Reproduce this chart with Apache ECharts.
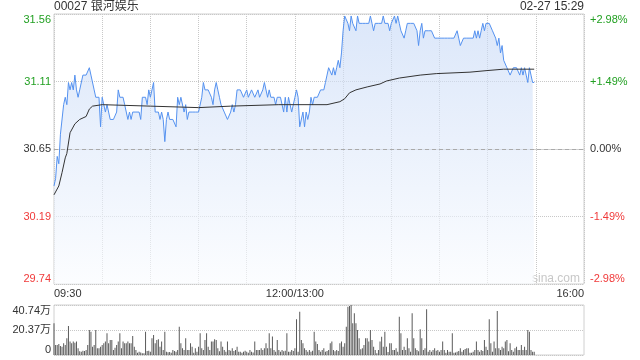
<!DOCTYPE html>
<html><head><meta charset="utf-8">
<script src="https://cdn.jsdelivr.net/npm/echarts@6/dist/echarts.min.js"></script>
<style>html,body{margin:0;padding:0;background:#fff}#c{width:640px;height:360px}</style>
</head><body><div id="c"></div>
<script>
const titleText = '00027 银河娱乐';
const stampText = '02-27 15:29';
const prevClose = 30.65;
const pctStep = 1.49;
const timeLabels = {0: '09:30', 150: '12:00/13:00', 330: '16:00'};
const volMax = 40.74;

const prices = [
30.40,30.45,30.60,30.55,30.75,30.75,30.95,31.00,30.95,31.10,
31.05,31.10,31.05,31.15,31.05,31.00,31.05,31.05,31.15,31.15,
31.15,31.15,31.20,31.15,31.15,31.05,31.00,31.00,31.00,30.80,
31.00,30.95,30.90,30.95,30.90,30.85,30.85,30.85,30.85,30.90,
31.05,31.00,31.00,31.00,30.95,30.95,30.85,30.90,30.85,30.90,
30.90,30.90,30.90,30.90,30.85,31.00,31.00,31.00,30.95,31.05,
31.00,31.05,31.10,30.90,30.90,30.90,30.85,30.90,30.85,30.70,
30.85,30.90,30.85,30.85,30.85,30.85,30.80,31.00,30.95,31.00,
31.00,30.90,30.95,30.85,30.90,30.90,30.90,30.90,30.90,30.90,
30.90,30.90,31.00,31.10,31.05,31.05,31.05,31.05,31.00,30.95,
31.05,31.10,31.05,31.00,30.95,30.95,30.90,30.90,30.85,30.85,
30.90,30.95,30.90,30.95,31.05,31.05,31.05,31.05,31.00,31.00,
31.05,31.00,31.00,31.05,31.05,31.00,31.00,31.05,31.00,31.00,
31.05,31.10,31.10,31.00,31.05,31.00,31.00,31.00,30.95,31.00,
31.00,31.00,31.00,30.90,31.00,30.90,31.00,30.95,30.90,30.90,
31.00,31.05,31.00,30.80,30.80,30.90,30.80,30.90,30.85,30.90,
31.00,30.95,31.00,31.00,31.00,31.00,31.05,31.05,31.05,31.10,
31.15,31.20,31.20,31.15,31.20,31.15,31.20,31.25,31.20,31.30,
31.45,31.55,31.55,31.50,31.45,31.55,31.50,31.50,31.45,31.55,
31.50,31.50,31.50,31.50,31.50,31.50,31.50,31.55,31.50,31.45,
31.50,31.50,31.50,31.50,31.50,31.55,31.50,31.50,31.50,31.45,
31.50,31.50,31.55,31.50,31.55,31.50,31.45,31.45,31.40,31.45,
31.50,31.50,31.50,31.50,31.50,31.50,31.45,31.35,31.45,31.50,
31.40,31.45,31.45,31.45,31.45,31.45,31.45,31.40,31.40,31.40,
31.40,31.40,31.40,31.40,31.40,31.40,31.40,31.40,31.40,31.40,
31.40,31.45,31.40,31.35,31.35,31.40,31.40,31.40,31.40,31.40,
31.40,31.40,31.45,31.40,31.45,31.40,31.45,31.50,31.45,31.50,
31.50,31.50,31.50,31.45,31.45,31.40,31.35,31.40,31.30,31.35,
31.25,31.25,31.20,31.20,31.15,31.15,31.20,31.20,31.20,31.20,
31.15,31.20,31.15,31.20,31.15,31.10,31.20,31.15,31.10,31.10
];

const avgMinutes = [0,3,5,7,8,10,13,16,20,22,24,30,60,90,110,140,170,178,181,184,188,195,203,207,215,228,238,259,269,280,299];
const avgValues  = [30.34,30.40,30.49,30.59,30.62,30.76,30.82,30.85,30.87,30.92,30.94,30.95,30.94,30.93,30.94,30.95,30.95,30.97,30.99,31.03,31.05,31.07,31.09,31.11,31.13,31.15,31.16,31.17,31.18,31.19,31.19];

const volumes = [
25.8,8.1,8.1,9.0,7.3,6.8,9.5,8.1,13.6,23.6,10.9,9.5,10.9,10.0,10.9,5.4,
3.0,
2.7,3.5,3.3,4.1,8.1,20.4,19.0,6.8,8.1,20.4,5.4,5.4,6.8,8.1,9.5,10.9,17.7,9.5,12.2,12.2,4.1,
6.0,
8.1,10.9,17.7,5.4,10.9,9.5,9.5,10.9,9.5,9.5,15.5,6.8,4.1,1.9,2.7,2.0,1.4,1.5,19.0,3.3,3.5,2.7,13.6,16.3,9.5,12.2,12.8,6.8,10.9,4.1,19.0,2.7,2.2,
2.5,
1.9,4.1,3.3,2.7,4.1,23.1,9.5,5.4,4.1,13.6,4.1,4.1,9.5,6.8,1.9,5.4,2.7,6.8,17.7,5.4,4.1,12.2,17.7,6.8,4.1,10.9,10.9,12.8,12.2,5.4,
3.0,
10.9,6.8,4.1,2.7,10.9,4.1,3.5,5.4,3.3,4.1,6.8,2.7,2.7,1.9,2.7,3.5,2.7,1.9,4.1,2.7,
2.0,
10.9,4.1,4.1,4.1,5.4,4.1,5.4,9.5,5.4,17.7,5.4,15.0,4.1,2.7,12.2,4.1,2.7,4.1,3.0,
3.5,
17.7,2.7,2.7,4.1,3.3,5.4,29.1,2.7,35.3,12.2,9.5,5.4,4.1,2.7,4.1,2.7,3.5,19.0,10.9,9.0,4.1,
2.7,4.1,5.4,2.7,3.3,4.1,9.5,10.9,4.1,
3.0,
4.1,3.3,9.5,10.9,6.8,9.5,23.1,39.4,39.9,40.7,25.8,34.0,25.8,20.4,13.6,4.6,5.4,8.1,13.6,13.6,10.9,20.4,12.2,6.8,4.1,1.4,4.1,10.9,14.9,6.8,19.0,6.8,
2.5,
9.5,9.5,4.1,4.1,5.4,2.7,31.2,17.7,4.1,6.8,4.1,13.6,5.4,2.7,34.0,13.6,5.4,4.1,
3.0,
20.9,13.6,4.1,5.4,37.2,2.7,4.1,2.7,4.1,5.4,3.5,4.1,2.7,4.1,10.9,4.1,1.9,4.1,2.7,2.7,17.7,1.9,
2.0,
2.7,3.3,5.4,2.7,4.1,4.9,5.4,5.4,1.9,1.9,2.7,4.1,10.9,4.1,2.7,4.1,3.3,12.2,6.8,4.1,29.1,9.5,2.7,10.9,5.4,35.9,5.4,4.1,6.8,5.4,10.9,12.2,
3.0,
9.5,4.1,2.7,5.4,6.8,4.1,4.1,8.1,4.1,6.8,4.1,20.4,19.0,4.1,2.7,2.7
];

const FONT = '"Liberation Sans", Arial, "Noto Sans CJK SC", sans-serif';
const GREEN = '#22a022';
const RED = '#f03a3a';
const DARK = '#333';

const priceStep = Math.round(prevClose * pctStep / 100 * 1e6) / 1e6;
const priceMin = Math.round((prevClose - 2 * priceStep) * 1e6) / 1e6;
const priceMax = Math.round((prevClose + 2 * priceStep) * 1e6) / 1e6;

function colorFor(d) {
  if (d > 1e-6) return GREEN;
  if (d < -1e-6) return RED;
  return DARK;
}

const chart = echarts.init(document.getElementById('c'), null, {renderer: 'canvas'});
chart.setOption({
  animation: false,
  backgroundColor: '#fff',
  textStyle: {fontFamily: FONT},
  title: [
    {text: titleText, left: 54, top: 1, padding: 0,
     textStyle: {fontSize: 12, fontWeight: 'normal', color: DARK, fontFamily: FONT}},
    {text: stampText, right: 56, top: 1, padding: 0,
     textStyle: {fontSize: 12, fontWeight: 'normal', color: DARK, fontFamily: FONT}}
  ],
  graphic: [{
    type: 'text', left: 532, top: 273, silent: true,
    style: {text: 'sina.com', fill: '#c8c8c8', font: '12px ' + FONT}
  }],
  grid: [
    {left: 54, right: 56, top: 14, bottom: 76, show: true, borderColor: '#d0d0d0', borderWidth: 1, backgroundColor: 'transparent'},
    {left: 54, right: 56, top: 305, bottom: 5, show: true, borderColor: '#d0d0d0', borderWidth: 1, backgroundColor: 'transparent'}
  ],
  xAxis: [
    {type: 'value', gridIndex: 0, min: 0, max: 330, interval: 30,
     axisLine: {show: true, lineStyle: {color: '#d0d0d0'}}, axisTick: {show: false},
     splitLine: {show: true, lineStyle: {type: 'dotted', color: '#c8c8c8'}},
     axisLabel: {show: true, color: DARK, fontSize: 11, margin: 4, fontFamily: FONT,
       formatter: v => timeLabels[v] || '', alignMinLabel: 'left', alignMaxLabel: 'right',
       showMinLabel: true, showMaxLabel: true}},
    {type: 'value', gridIndex: 1, min: 0, max: 330, interval: 30,
     axisLine: {show: false}, axisTick: {show: false}, splitLine: {show: false},
     axisLabel: {show: false}}
  ],
  yAxis: [
    {type: 'value', gridIndex: 0, min: priceMin, max: priceMax, interval: priceStep,
     axisLine: {show: false}, axisTick: {show: false},
     splitLine: {show: true, lineStyle: {type: 'dotted', color: '#c8c8c8'}},
     axisLabel: {fontSize: 11, margin: 3, fontFamily: FONT,
       formatter: v => v.toFixed(2),
       color: v => colorFor(v - prevClose),
       verticalAlignMinLabel: 'bottom', verticalAlignMaxLabel: 'top',
       showMinLabel: true, showMaxLabel: true}},
    {type: 'value', gridIndex: 0, position: 'right', min: -2 * pctStep, max: 2 * pctStep, interval: pctStep,
     axisLine: {show: false}, axisTick: {show: false}, splitLine: {show: false},
     axisLabel: {fontSize: 11, margin: 6, fontFamily: FONT,
       formatter: v => (v > 1e-6 ? '+' : '') + (Math.abs(v) < 1e-6 ? 0 : v).toFixed(2) + '%',
       color: v => colorFor(v),
       verticalAlignMinLabel: 'bottom', verticalAlignMaxLabel: 'top',
       showMinLabel: true, showMaxLabel: true}},
    {type: 'value', gridIndex: 1, min: 0, max: volMax, interval: volMax / 2,
     axisLine: {show: false}, axisTick: {show: false},
     splitLine: {show: true, lineStyle: {type: 'dotted', color: '#c8c8c8'}},
     axisLabel: {fontSize: 11, margin: 3, color: DARK, fontFamily: FONT,
       formatter: v => v < 1e-6 ? '0' : v.toFixed(2) + '万',
       verticalAlignMinLabel: 'bottom', verticalAlignMaxLabel: 'top',
       showMinLabel: true, showMaxLabel: true}}
  ],
  series: [
    {type: 'line', xAxisIndex: 0, yAxisIndex: 0, symbol: 'none', silent: true,
     data: prices.map((p, i) => [i, p]),
     lineStyle: {color: '#5592f0', width: 1},
     areaStyle: {color: new echarts.graphic.LinearGradient(0, 0, 0, 1, [
       {offset: 0, color: 'rgba(196,215,246,0.85)'},
       {offset: 1, color: 'rgba(250,252,255,0.9)'}])},
     markLine: {silent: true, symbol: 'none', label: {show: false},
       lineStyle: {type: [4, 3], color: '#aaaaaa', width: 1},
       data: [{yAxis: prevClose}]},
     z: 2},
    {type: 'line', xAxisIndex: 0, yAxisIndex: 0, symbol: 'none', silent: true,
     data: avgMinutes.map((m, i) => [m, avgValues[i]]),
     lineStyle: {color: '#333', width: 1}, z: 3},
    {type: 'bar', xAxisIndex: 1, yAxisIndex: 2, silent: true, barWidth: 1,
     data: volumes.map((v, i) => [i, v]),
     itemStyle: {color: '#5a5a5a'}}
  ]
});
</script>
</body></html>
